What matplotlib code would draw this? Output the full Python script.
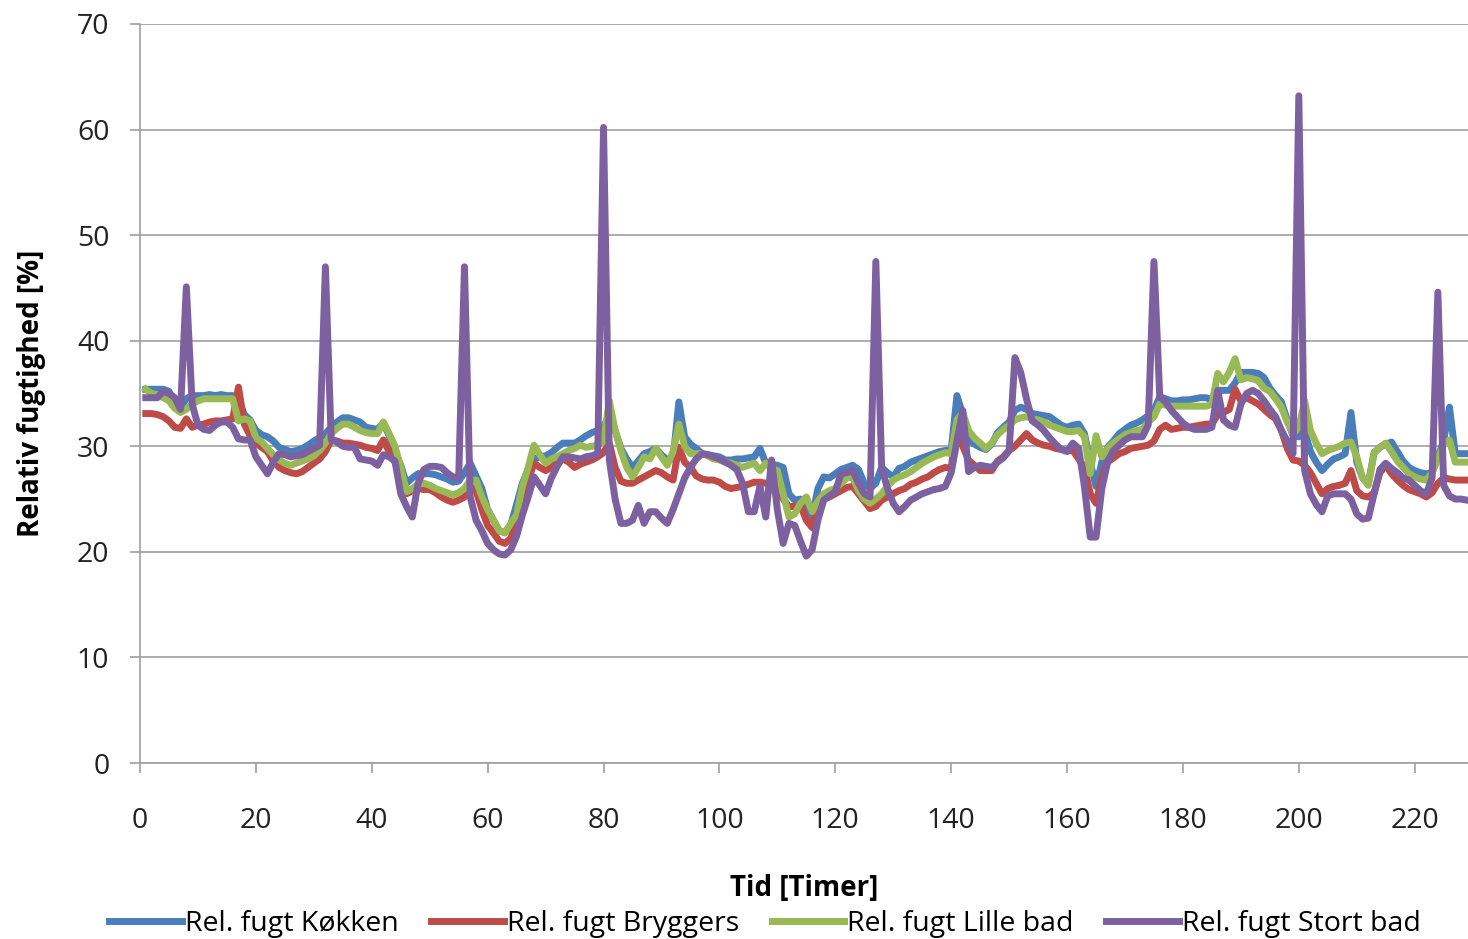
import matplotlib
matplotlib.use("Agg")
import matplotlib.pyplot as plt
import numpy as np

plt.rcParams['font.family'] = ['Open Sans', 'DejaVu Sans']

hours = list(range(1, 230))

kokken = [
    35.4, 35.4, 35.4, 35.4, 35.2, 34.2, 33.7, 34.5, 34.8, 34.8,
    34.8, 34.9, 34.8, 34.9, 34.8, 34.8, 34.4, 33.0, 32.5, 31.5,
    31.1, 30.9, 30.5, 29.9, 29.7, 29.5, 29.6, 29.8, 30.1, 30.5,
    30.8, 31.2, 31.8, 32.3, 32.7, 32.7, 32.5, 32.3, 31.8, 31.7,
    31.6, 32.2, 31.0, 29.5, 28.2, 26.5, 27.0, 27.4, 27.4, 27.4,
    27.3, 27.1, 26.9, 26.6, 26.7, 27.5, 28.4, 27.2, 26.0, 24.0,
    23.0, 22.0, 21.8, 22.6, 24.5, 26.5, 27.8, 28.8, 29.0, 29.1,
    29.4, 29.9, 30.3, 30.3, 30.3, 30.6, 31.0, 31.3, 31.5, 31.8,
    33.0, 31.5, 29.8, 28.8, 28.0, 28.6, 29.3, 29.5, 29.8, 29.2,
    28.7, 28.8, 34.2, 30.9, 30.2, 29.8, 29.3, 29.2, 29.1, 29.0,
    28.7, 28.7, 28.8, 28.8, 28.9, 29.0, 29.8, 28.4, 28.3, 28.2,
    28.0, 25.5, 24.9, 25.0, 24.5, 23.3, 26.0, 27.1, 27.0, 27.4,
    27.8, 28.0, 28.2, 27.8, 26.5, 26.0, 26.5, 28.0, 27.5, 27.1,
    27.9, 28.1, 28.5, 28.7, 28.9, 29.1, 29.3, 29.5, 29.6, 29.6,
    34.8, 33.0, 30.6, 30.2, 29.9, 29.7, 30.2, 31.3, 31.8, 32.3,
    33.4, 33.7, 33.5, 33.1, 33.0, 32.9, 32.8, 32.4, 32.0, 31.8,
    32.0, 32.1, 31.2, 28.5, 26.2, 28.5, 29.9, 30.5, 31.2, 31.6,
    32.0, 32.2, 32.5, 32.9, 33.4, 34.7, 34.5, 34.3, 34.3, 34.4,
    34.4, 34.5, 34.6, 34.6, 34.4, 35.3, 35.3, 35.3, 36.0, 37.0,
    37.0, 37.0, 36.9, 36.5, 35.5, 34.8, 34.2, 32.5, 31.0, 30.9,
    31.5, 29.5, 28.5, 27.7, 28.3, 28.8, 29.0, 29.3, 33.2, 28.5,
    27.0, 26.5, 29.4, 29.9, 30.2, 30.4, 29.5, 28.6, 28.0, 27.7,
    27.5, 27.4, 27.5, 29.0, 30.5, 33.7, 29.3, 29.3, 29.3,
]

bryggers = [
    33.1, 33.1, 33.0, 32.8, 32.4, 31.8, 31.7, 32.6, 31.8, 32.0,
    32.1, 32.3, 32.4, 32.4, 32.5, 32.6, 35.6, 32.1, 31.0, 30.3,
    29.9, 29.5, 28.6, 28.0, 27.7, 27.5, 27.4, 27.6, 28.0, 28.4,
    28.8, 29.5, 30.6, 30.5, 30.3, 30.3, 30.2, 30.1, 29.9, 29.8,
    29.6, 30.6, 29.5, 28.5, 27.2, 25.5, 25.8, 26.0, 25.9, 25.9,
    25.6, 25.2, 24.9, 24.7, 24.9, 25.2, 26.2, 25.8, 24.0, 22.5,
    21.8, 21.0, 20.8, 21.3, 22.8, 24.8, 26.8, 28.4, 28.0, 27.7,
    28.0, 28.5, 28.8, 28.5, 28.0, 28.3, 28.5, 28.7, 29.0, 29.4,
    30.3, 28.0, 26.7, 26.5, 26.5, 26.8, 27.1, 27.4, 27.7, 27.5,
    27.1, 26.8, 29.9, 28.5, 28.0, 27.2, 26.9, 26.8, 26.8, 26.6,
    26.2, 26.0, 26.1, 26.2, 26.4, 26.6, 26.6, 26.5, 26.4, 26.2,
    25.0, 24.3, 24.3, 24.4, 23.0, 22.3, 24.9, 25.0, 25.2, 25.5,
    25.8, 26.1, 26.2, 25.5, 24.8, 24.1, 24.3, 24.9, 25.2, 25.5,
    25.8, 26.0, 26.4, 26.6, 26.9, 27.1, 27.5, 27.8, 28.0, 27.9,
    32.1, 30.0, 28.7, 28.2, 27.7, 27.7, 27.7, 28.6, 29.0, 29.6,
    30.0, 30.6, 31.2, 30.6, 30.3, 30.1, 30.0, 29.8, 29.7, 29.6,
    29.6, 28.8, 28.0, 25.5, 24.6, 27.1, 28.5, 28.9, 29.3, 29.5,
    29.8, 29.9, 30.0, 30.1, 30.5, 31.6, 32.0, 31.6, 31.7, 31.8,
    31.8, 31.9, 32.0, 32.1, 32.1, 33.0, 33.2, 33.5, 35.4, 34.3,
    34.6, 34.3, 34.0, 33.5, 33.0, 32.6, 31.5, 29.8, 28.7, 28.6,
    28.2, 27.5, 26.5, 25.5, 26.0, 26.2, 26.3, 26.5, 27.7, 25.8,
    25.3, 25.2, 25.6, 27.5, 28.2, 27.4, 26.8, 26.3, 25.9, 25.7,
    25.5, 25.2, 25.6, 26.5, 27.0, 26.9, 26.8, 26.8, 26.8,
]

lille_bad = [
    35.4, 35.0, 34.9, 34.6, 34.3, 33.6, 33.2, 33.5, 34.0, 34.3,
    34.5, 34.5, 34.5, 34.5, 34.5, 34.5, 32.4, 32.6, 32.4, 30.8,
    30.4, 29.8, 29.2, 28.7, 28.4, 28.2, 28.4, 28.6, 28.8, 29.1,
    29.6, 30.3, 31.2, 31.7, 32.1, 32.1, 31.8, 31.5, 31.3, 31.2,
    31.2, 32.3, 31.2, 30.0, 28.0, 25.7, 26.0, 26.4, 26.5, 26.3,
    26.0, 25.8, 25.6, 25.4, 25.6, 26.0, 26.8, 26.8, 25.2, 24.0,
    23.0, 22.0, 21.8, 22.7, 23.5, 26.2, 28.0, 30.1, 29.2, 28.4,
    28.8, 29.0, 29.3, 29.6, 29.8, 30.1, 29.9, 30.0, 30.1, 30.5,
    34.3, 31.5, 29.6, 28.0, 27.1, 28.0, 29.0, 28.8, 29.8, 29.0,
    28.2, 29.5, 32.1, 30.0, 29.3, 29.3, 29.3, 29.1, 28.8, 28.7,
    28.5, 28.4, 28.2, 28.0, 28.2, 28.4, 27.7, 28.4, 27.9, 27.7,
    25.5, 23.3, 23.6, 24.6, 25.2, 23.8, 24.8, 25.5, 25.8, 26.0,
    26.5, 27.0, 27.1, 25.8, 25.0, 24.6, 25.0, 25.5, 26.2, 26.8,
    27.1, 27.3, 27.6, 28.0, 28.4, 28.7, 29.0, 29.2, 29.4, 29.3,
    32.5, 33.2, 31.5, 30.8, 30.3, 29.8, 30.3, 31.1, 31.6, 32.0,
    32.5, 32.7, 32.8, 32.6, 32.5, 32.3, 32.0, 31.8, 31.6, 31.4,
    31.4, 31.5, 30.9, 27.4, 31.0, 29.0, 29.8, 30.3, 30.7, 31.1,
    31.3, 31.5, 31.6, 32.3, 32.8, 34.0, 33.9, 33.8, 33.8, 33.8,
    33.8, 33.8, 33.8, 33.8, 34.0, 36.9, 36.1, 37.0, 38.3, 36.3,
    36.5, 36.4, 36.2, 35.5, 35.2, 34.5, 33.7, 32.3, 31.2, 31.8,
    34.3, 31.5, 30.3, 29.3, 29.6, 29.8, 30.0, 30.3, 30.4, 29.0,
    27.0, 26.3, 29.4, 29.9, 30.3, 29.5, 28.6, 28.0, 27.4, 27.1,
    26.9, 26.8, 27.5, 28.8, 30.2, 30.6, 28.5, 28.5, 28.5,
]

stort_bad = [
    34.6, 34.6, 34.6, 35.2, 35.0, 34.6, 33.5, 45.1, 34.0, 32.0,
    31.6, 31.5, 32.0, 32.3, 32.3, 31.8, 30.7, 30.6, 30.6, 29.0,
    28.2, 27.4, 28.5, 29.3, 29.2, 29.0, 29.1, 29.2, 29.5, 29.8,
    30.1, 47.0, 30.6, 30.4, 30.0, 29.9, 29.9, 28.8, 28.7, 28.6,
    28.2, 29.2, 29.0, 28.6, 25.5, 24.3, 23.3, 26.5, 27.8, 28.1,
    28.1, 28.0, 27.5, 27.1, 27.0, 47.0, 25.2, 23.0, 22.0, 20.8,
    20.2, 19.8, 19.7, 20.2, 21.5, 23.5, 25.2, 27.1, 26.3, 25.5,
    27.0, 28.1, 29.0, 29.0, 28.9, 28.8, 29.0, 29.1, 29.3, 60.2,
    28.7, 25.0, 22.7, 22.7, 23.0, 24.4, 22.7, 23.8, 23.8, 23.2,
    22.7, 24.0, 25.5, 27.0, 28.0, 28.8, 29.3, 29.2, 29.0, 28.8,
    28.5, 28.2, 27.8, 26.5, 23.8, 23.8, 26.2, 23.3, 28.7, 24.0,
    20.8, 22.7, 22.5, 21.0, 19.6, 20.2, 23.0, 24.9, 25.3, 25.7,
    27.4, 27.5, 27.7, 26.5, 25.5, 25.2, 47.5, 28.0, 26.0, 24.6,
    23.8, 24.3, 24.9, 25.2, 25.5, 25.7, 25.9, 26.0, 26.2, 27.5,
    30.5, 33.4, 27.6, 28.0, 28.2, 28.1, 28.0, 28.5, 28.9, 29.6,
    38.4, 37.0, 34.5, 32.4, 32.0, 31.5, 30.8, 30.2, 29.7, 29.5,
    30.3, 29.8, 26.2, 21.4, 21.4, 26.0, 28.5, 29.6, 30.1, 30.6,
    30.9, 30.9, 30.9, 32.0, 47.5, 34.7, 34.2, 33.4, 32.8, 32.2,
    31.8, 31.6, 31.6, 31.6, 31.8, 35.3, 32.5, 32.0, 31.8, 34.0,
    35.0, 35.3, 35.0, 34.3, 33.5, 32.8, 31.5, 30.5, 29.3, 63.2,
    27.7, 25.5, 24.5, 23.8, 25.3, 25.5, 25.5, 25.5, 25.0, 23.6,
    23.1, 23.2, 25.5, 27.8, 28.4, 27.9, 27.5, 27.0, 26.8, 26.3,
    25.8, 25.5, 27.0, 44.6, 26.3, 25.3, 25.0, 25.0, 24.9,
]

series_names = ["Rel. fugt Køkken", "Rel. fugt Bryggers", "Rel. fugt Lille bad", "Rel. fugt Stort bad"]
series_data = [kokken, bryggers, lille_bad, stort_bad]
colors = ["#4A7EBB", "#BE4B48", "#98B954", "#7D60A0"]

x_ticks = list(range(0, 221, 20))
y_ticks = list(range(0, 71, 10))

fig = plt.figure(figsize=(14.68, 9.39), dpi=100)
ax = fig.add_axes([140/1468, 1 - 763/939, 1 - 140/1468, (763 - 24)/939])

for name, data, c in zip(series_names, series_data, colors):
    ax.plot(hours, data, color=c, lw=5.0, label=name, solid_joinstyle='round')

ax.set_xlim(0, 229.2)
ax.set_ylim(0, 70)
ax.set_xticks(x_ticks)
ax.set_yticks(y_ticks)
ax.grid(axis='y', color='#A0A0A0', lw=1.2)
ax.set_axisbelow(True)
for s in ['top', 'right']:
    ax.spines[s].set_visible(False)
for s in ['left', 'bottom']:
    ax.spines[s].set_color('#A0A0A0')
    ax.spines[s].set_linewidth(1.2)
ax.tick_params(axis='both', colors='#A0A0A0', length=7, width=1.2, labelcolor='#222222', labelsize=20.5)
ax.tick_params(axis='x', pad=25)
ax.tick_params(axis='y', pad=15)

ax.set_xlabel("Tid [Timer]", fontsize=20, fontweight='bold', labelpad=28)
ax.set_ylabel("Relativ fugtighed [%]", fontsize=20, fontweight='bold', labelpad=22)

fig.legend(loc='lower center', bbox_to_anchor=(0.521, -0.026), ncol=4, frameon=False,
           fontsize=20.5, handlelength=2.55, handletextpad=0.1, columnspacing=1.15)

fig.savefig("out.png", dpi=100)
